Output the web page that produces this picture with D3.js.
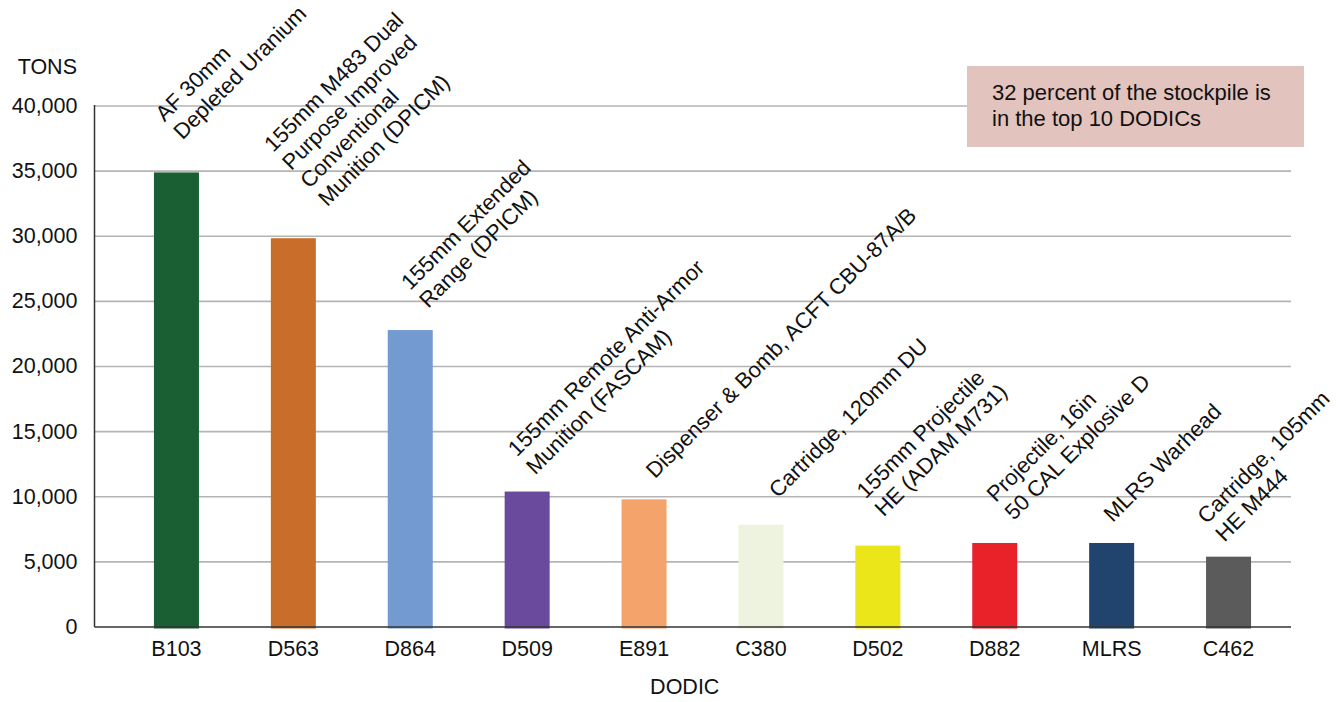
<!doctype html>
<html>
<head>
<meta charset="utf8">
<title>Top 10 DODICs</title>
<script src="https://cdn.jsdelivr.net/npm/d3@7/dist/d3.min.js"></script>
<style>
    body { margin: 0; background: #fff; }
    svg text { font-family: "Liberation Sans", Arial, Helvetica, sans-serif; fill: #111; }
</style>
</head>
<body>
<div id="board"></div>
<script>
"use strict";
// data
const dodics = ["B103", "D563", "D864", "D509", "E891", "C380", "D502", "D882", "MLRS", "C462"];
const tons = [34900, 29850, 22800, 10400, 9800, 7850, 6250, 6450, 6450, 5400];
const names = [
    ["AF 30mm", "Depleted Uranium"],
    ["155mm M483 Dual", "Purpose Improved", "Conventional", "Munition (DPICM)"],
    ["155mm Extended", "Range (DPICM)"],
    ["155mm Remote Anti-Armor", "Munition (FASCAM)"],
    ["Dispenser & Bomb, ACFT CBU-87A/B"],
    ["Cartridge, 120mm DU"],
    ["155mm Projectile", "HE (ADAM M731)"],
    ["Projectile, 16in", "50 CAL Explosive D"],
    ["MLRS Warhead"],
    ["Cartridge, 105mm", "HE M444"]
];
const barColors = ["#1a5f33", "#c96d2b", "#739bd1", "#6a4a9c", "#f4a46b",
                   "#edf3df", "#ebe61a", "#e9222a", "#21446f", "#5b5b5b"];
const yTicks = [0, 5000, 10000, 15000, 20000, 25000, 30000, 35000, 40000];
const noteLines = ["32 percent of the stockpile is", "in the top 10 DODICs"];

// hand placement of the slanted names (offset from bar centre / bar top)
const nameDx = [6, 34, 18, 8, 11, 17, 6, 19, 1, -4];
const nameDy = [-32, -31, -21, -16, -20, -26, -28, -22, -20, -14];

const W = 1338, H = 702;
const pLeft = 94.5, pRight = 1291, pTop = 106, pBottom = 627;

var svg = d3.select("#board").append("svg")
    .attr("width", W).attr("height", H);

var x = d3.scaleBand()
    .domain(dodics)
    .range([118, 1287])
    .paddingInner(0.615)
    .paddingOuter(0.3075);

var y = d3.scaleLinear()
    .domain([0, 40000])
    .range([pBottom, pTop]);

// gridlines
svg.append("g")
    .selectAll("line")
    .data(yTicks.slice(1))
    .enter()
    .append("line")
    .attr("x1", pLeft).attr("x2", pRight)
    .attr("y1", d => y(d)).attr("y2", d => y(d))
    .attr("stroke", "#b4b4b4")
    .attr("stroke-width", 1.6);

// y axis labels
var yAxis = d3.axisLeft(y).tickValues(yTicks).tickFormat(d3.format(",")).tickSize(0).tickPadding(17);
var yg = svg.append("g").attr("transform", "translate(" + pLeft + ",0)").call(yAxis);
yg.select(".domain").remove();
yg.selectAll("text").style("font-size", "21.5px").attr("dy", "0.3em");

svg.append("text")
    .attr("x", 77).attr("y", 74)
    .attr("text-anchor", "end")
    .style("font-size", "21.5px")
    .text("TONS");

// bars
svg.append("g")
    .selectAll("rect")
    .data(tons)
    .enter()
    .append("rect")
    .attr("x", (d, i) => x(dodics[i]))
    .attr("width", x.bandwidth())
    .attr("y", d => y(d))
    .attr("height", d => y(0) - y(d) + 1.5)
    .attr("fill", (d, i) => barColors[i]);

// axis lines
svg.append("line")
    .attr("x1", pLeft).attr("x2", pLeft).attr("y1", pTop - 1).attr("y2", pBottom)
    .attr("stroke", "#333").attr("stroke-width", 1.5);
svg.append("line")
    .attr("x1", pLeft).attr("x2", pRight).attr("y1", pBottom).attr("y2", pBottom)
    .attr("stroke", "#333").attr("stroke-width", 1.5);

// x axis labels
var xAxis = d3.axisBottom(x).tickSize(0).tickPadding(14);
var xg = svg.append("g").attr("transform", "translate(0," + pBottom + ")").call(xAxis);
xg.select(".domain").remove();
xg.selectAll("text").style("font-size", "21.5px");

svg.append("text")
    .attr("x", (pLeft + pRight) / 2 - 8).attr("y", 694)
    .attr("text-anchor", "middle")
    .style("font-size", "21.5px")
    .text("DODIC");

// rotated names over the bars
const lh = 25.5;
var lab = svg.append("g")
    .selectAll("text")
    .data(names)
    .enter()
    .append("text")
    .attr("transform", (d, i) => "translate(" + (x(dodics[i]) + x.bandwidth() / 2 + nameDx[i]) + "," + (y(tons[i]) + nameDy[i]) + ") rotate(-45)")
    .style("font-size", "22px");

lab.each(function(lines) {
    var t = d3.select(this);
    lines.forEach((s, j) => {
        t.append("tspan")
            .attr("x", 0)
            .attr("y", -(lines.length - 1 - j) * lh)
            .text(s);
    });
});

// note box
svg.append("rect")
    .attr("x", 967).attr("y", 66)
    .attr("width", 337).attr("height", 81)
    .attr("fill", "#e3c3bd");

svg.append("g")
    .selectAll("text")
    .data(noteLines)
    .enter()
    .append("text")
    .attr("x", 992)
    .attr("y", (d, i) => 100 + i * 26)
    .style("font-size", "22px")
    .text(d => d);
</script>
</body>
</html>
